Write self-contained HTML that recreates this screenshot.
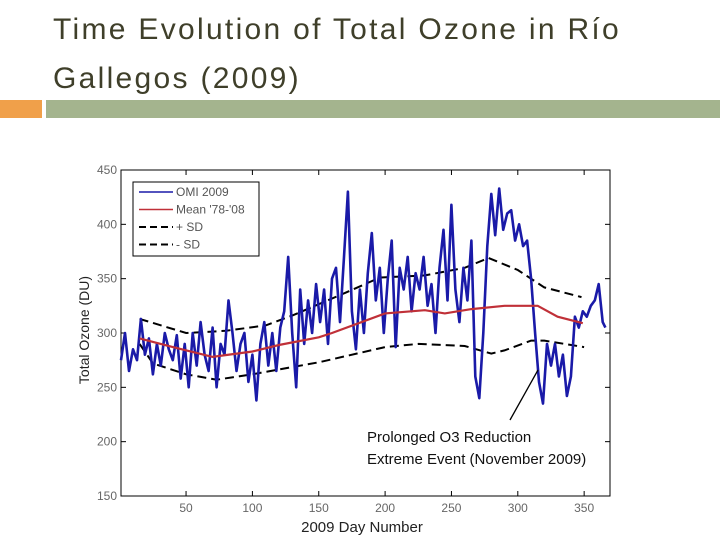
<!DOCTYPE html>
<html><head><meta charset="utf-8"><style>
body{margin:0;width:720px;height:540px;background:#fff;overflow:hidden;font-family:"Liberation Sans",sans-serif;}
.title{position:absolute;left:53px;top:5px;font-size:30px;line-height:49px;color:#3f3f2a;letter-spacing:2.3px;}
</style></head><body>
<div class="title">Time Evolution of Total Ozone in Río<br>Gallegos (2009)</div>
<div style="position:absolute;left:0;top:100px;width:42px;height:18px;background:#f0a04a"></div>
<div style="position:absolute;left:46px;top:100px;width:674px;height:18px;background:#a4b48e"></div>
<svg id="chart" width="720" height="540" style="position:absolute;left:0;top:0"></svg>
<script>
const yTicks=[150,200,250,300,350,400,450];
const xTicks=[50,100,150,200,250,300,350];
const omiDays=[1,4,7,10,13,16,19,22,25,28,31,34,37,40,43,46,49,52,55,58,61,64,67,70,73,76,79,82,85,88,91,94,97,100,103,106,109,112,115,118,121,124,127,130,133,136,139,142,145,148,151,154,157,160,163,166,169,172,175,178,181,184,187,190,193,196,199,202,205,208,211,214,217,220,223,226,229,232,235,238,241,244,247,250,253,256,259,262,265,268,271,274,277,280,283,286,289,292,295,298,301,304,307,310,313,316,319,322,325,328,331,334,337,340,343,346,349,352,355,358,361,364,366];
const omiValues=[275,300,265,285,275,313,280,295,262,290,270,300,285,275,298,258,290,250,300,270,310,280,265,305,250,290,280,330,300,265,290,300,255,280,238,290,310,270,300,265,305,320,370,300,250,340,290,330,300,345,310,340,290,350,360,310,370,430,320,285,340,300,355,392,330,360,300,350,385,287,360,340,370,320,355,340,370,325,345,300,360,395,330,418,340,310,360,330,385,260,240,300,380,428,390,433,395,410,413,385,400,380,385,350,300,255,235,290,270,290,260,280,242,260,315,305,320,315,325,330,345,310,305];
const refDays=[15,40,70,100,120,150,160,200,230,245,265,290,315,330,349];
const meanValues=[295,287,278,283,289,296,300,318,321,318,322,325,325,315,309];
const sdDays=[15,50,80,110,130,170,196,230,260,278,300,320,348];
const plusSd=[313,300,302,307,316,337,351,353,360,369,358,342,333];
const sdDays2=[15,25,50,73,100,150,200,225,260,280,290,310,320,350];
const minusSd=[290,272,262,257,262,273,287,290,288,281,284,293,293,287];
const NS='http://www.w3.org/2000/svg';
const svg=document.getElementById('chart');
const L=121,R=610,T=170,B=496;
const xs=d=>119.7+1.327*d;
const ys=v=>B-(v-150)*(B-T)/300;
function mk(t,a){const e=document.createElementNS(NS,t);for(const k in a)e.setAttribute(k,a[k]);svg.appendChild(e);return e;}
function pts(xa,ya){return xa.map((d,i)=>xs(d).toFixed(1)+','+ys(ya[i]).toFixed(1)).join(' ');}
let fr=mk('rect',{x:L,y:T,width:R-L,height:B-T,fill:'#fff',stroke:'#000','stroke-width':1});


yTicks.forEach(v=>{
  const y=ys(v);
  const t=mk('line',{x1:L,x2:L+5,y1:y,y2:y,stroke:'#000'});
  
  
  mk('line',{x1:R-5,x2:R,y1:y,y2:y,stroke:'#000'});
  const tx=mk('text',{x:L-4,y:y+4,'text-anchor':'end','font-size':12,fill:'#666'});
  tx.textContent=v;
  
  
});
xTicks.forEach(d=>{
  const x=xs(d);
  const t=mk('line',{x1:x,x2:x,y1:B,y2:B-5,stroke:'#000'});
  
  
  mk('line',{x1:x,x2:x,y1:T,y2:T+5,stroke:'#000'});
  const tx=mk('text',{x:x,y:B+16,'text-anchor':'middle','font-size':12,fill:'#666'});
  tx.textContent=d;
  
  
});
let p=mk('polyline',{points:pts(sdDays,plusSd),fill:'none',stroke:'#000','stroke-width':2,'stroke-dasharray':'9,5'});


p=mk('polyline',{points:pts(sdDays2,minusSd),fill:'none',stroke:'#000','stroke-width':2,'stroke-dasharray':'9,5'});


p=mk('polyline',{points:pts(omiDays,omiValues),fill:'none',stroke:'#1a1aa8','stroke-width':2.6,'stroke-linejoin':'round'});


p=mk('polyline',{points:pts(refDays,meanValues),fill:'none',stroke:'#c03038','stroke-width':2.2});


let lg=mk('rect',{x:133,y:182,width:126,height:74,fill:'#fff',stroke:'#000'});


const leg=[['OMI 2009','#1a1aa8',''],["Mean '78-'08",'#c03038',''],['+ SD','#000','7,4'],['- SD','#000','7,4']];
leg.forEach((e,i)=>{
  const y=192+i*17.5;
  const l=mk('line',{x1:139,x2:173,y1:y,y2:y,stroke:e[1],'stroke-width':e[2]?2:1.5,'stroke-dasharray':e[2]||'none'});
  
  
  const t=mk('text',{x:176,y:y+4,'font-size':12,fill:'#555'});
  t.textContent=e[0];
  
  
});
let yl=mk('text',{x:0,y:0,transform:'translate(89,330) rotate(-90)','text-anchor':'middle','font-size':14,fill:'#222'});
yl.textContent='Total Ozone (DU)';


let xl=mk('text',{x:362,y:532,'text-anchor':'middle','font-size':15,fill:'#222'});
xl.textContent='2009 Day Number';


let ar=mk('line',{x1:510,y1:420,x2:538,y2:370,stroke:'#000','stroke-width':1.3});


let a1=mk('text',{x:367,y:442,'font-size':15,fill:'#111'});
a1.textContent='Prolonged O3 Reduction';


let a2=mk('text',{x:367,y:464,'font-size':15,fill:'#111'});
a2.textContent='Extreme Event (November 2009)';


</script>
</body></html>
